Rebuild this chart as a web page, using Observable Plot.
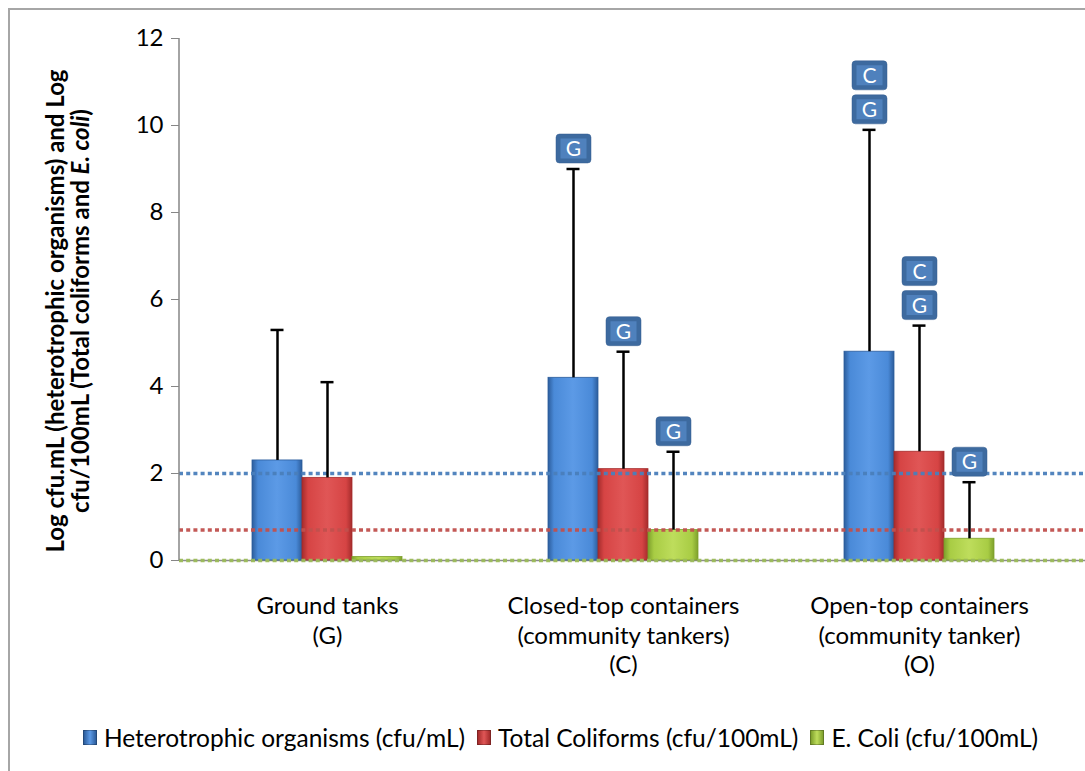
<!DOCTYPE html>
<html><head><meta charset="utf-8">
<script src="https://cdn.jsdelivr.net/npm/d3@7"></script>
<script src="https://cdn.jsdelivr.net/npm/@observablehq/plot@0.6"></script>
<style>
body{margin:0;background:#fff;font-family:Lato,"Open Sans",sans-serif;}
#wrap{position:relative;width:1085px;height:771px;overflow:hidden;background:#fff;}
#frame{position:absolute;left:8px;top:8px;width:1200px;height:900px;border:2px solid #a6a6a6;box-sizing:border-box;}
#chart{position:absolute;left:0;top:0;}
#legend{position:absolute;top:723px;left:18px;width:1085px;display:flex;justify-content:center;align-items:center;font-size:24.5px;color:#000;white-space:nowrap;}
#legend .item{display:flex;align-items:center;margin:0 6px;}
#legend .sw{width:14px;height:15px;margin-right:7px;border:1px solid rgba(0,0,0,0.25);box-sizing:border-box;}
</style>
</head><body>
<div id="wrap"><div id="frame"></div><div id="chart"></div><div id="legend"></div></div>
<script>
// ---- data ----
const categories = ["Ground tanks", "Closed-top containers", "Open-top containers"];
const categoryLabels = ["Ground tanks\n(G)", "Closed-top containers\n(community tankers)\n(C)", "Open-top containers\n(community tanker)\n(O)"];
const seriesNames = ["Heterotrophic organisms (cfu/mL)", "Total Coliforms (cfu/100mL)", "E. Coli (cfu/100mL)"];
const heterotrophic = [2.3, 4.2, 4.8];
const heterotrophicUpper = [5.3, 9.0, 9.9];
const coliforms = [1.9, 2.1, 2.5];
const coliformsUpper = [4.1, 4.8, 5.4];
const ecoli = [0.08, 0.7, 0.5];
const ecoliUpper = [null, 2.5, 1.8];
const heterotrophicBadges = [[], ["G"], ["G", "C"]];
const coliformsBadges = [[], ["G"], ["G", "C"]];
const ecoliBadges = [[], ["G"], ["G"]];
const thresholds = [2.0, 0.7, 0.0];
const yTicks = [0, 2, 4, 6, 8, 10, 12];

// ---- styles ----
const seriesColors = [
  {edge: "#2c5d9c", mid: "#4a8ad8", light: "#5c9ae6"},
  {edge: "#a52c2c", mid: "#d64444", light: "#e05656"},
  {edge: "#7ea02c", mid: "#a8cc44", light: "#bedd5c"}
];
const thresholdColors = ["#4a7ebb", "#c0504d", "#9bbb59"];

const values = [heterotrophic, coliforms, ecoli];
const uppers = [heterotrophicUpper, coliformsUpper, ecoliUpper];
const badgeSets = [heterotrophicBadges, coliformsBadges, ecoliBadges];

const rows = [];
const badgeRows = [];
values.forEach((vals, s) => vals.forEach((v, c) => {
  rows.push({category: categories[c], series: seriesNames[s], s, value: v, upper: uppers[s][c]});
  badgeSets[s][c].forEach((letter, level) => badgeRows.push({category: categories[c], s, upper: uppers[s][c], letter, level}));
}));

const W = 1085, H = 700;
const mL = 179, mT = 38, mB = 140;
const xRange = [179, 1067];
const bw = (xRange[1] - xRange[0]) / categories.length;
const barW = 50;

function roundRect(w, h, r) {
  return {draw(ctx) {
    ctx.moveTo(-w + r, -h); ctx.lineTo(w - r, -h); ctx.arcTo(w, -h, w, -h + r, r);
    ctx.lineTo(w, h - r); ctx.arcTo(w, h, w - r, h, r);
    ctx.lineTo(-w + r, h); ctx.arcTo(-w, h, -w, h - r, r);
    ctx.lineTo(-w, -h + r); ctx.arcTo(-w, -h, -w + r, -h, r); ctx.closePath();
  }};
}
const outerBadge = roundRect(17.5, 14.5, 3.5);
const innerBadge = roundRect(13, 10, 0.01);

const marks = [];
marks.push(Plot.ruleY([0], {stroke: "#8c8c8c", strokeWidth: 1.5}));
[0, 1, 2].forEach(s => {
  const inL = bw / 2 - 1.5 * barW + s * barW;
  marks.push(Plot.barY(rows.filter(d => d.s === s), {
    x: "category", y: "value", fill: `url(#grad${s})`,
    insetLeft: inL, insetRight: bw - inL - barW,
    stroke: seriesColors[s].edge, strokeWidth: 0.8
  }));
});
thresholds.forEach((t, i) => marks.push(Plot.ruleY([t], {stroke: thresholdColors[i], strokeWidth: 3.5, strokeDasharray: "4,3.2", strokeOpacity: 0.95})));
[0, 1, 2].forEach(s => {
  const dx = (s - 1) * barW;
  const er = rows.filter(d => d.s === s && d.upper != null);
  marks.push(Plot.ruleX(er, {x: "category", y1: "value", y2: "upper", dx, stroke: "#000", strokeWidth: 2.5}));
  marks.push(Plot.tickY(er, {x: "category", y: "upper", dx, insetLeft: bw / 2 - 6.5, insetRight: bw / 2 - 6.5, stroke: "#000", strokeWidth: 2.5}));
  [0, 1].forEach(level => {
    const br = badgeRows.filter(d => d.s === s && d.level === level);
    const dy = -20.5 - 34 * level;
    marks.push(Plot.dot(br, {x: "category", y: "upper", dx, dy, r: 10, symbol: outerBadge, fill: "#3d6a9f", stroke: "#365f90", strokeWidth: 0.5}));
    marks.push(Plot.dot(br, {x: "category", y: "upper", dx, dy, r: 10, symbol: innerBadge, fill: "#4f81bd", stroke: "none"}));
    marks.push(Plot.text(br, {x: "category", y: "upper", dx, dy: dy + 1, text: "letter", fill: "#fff", fontSize: 21, fontFamily: "Lato, sans-serif"}));
  });
});
marks.push(Plot.text(categories, {x: d => d, text: (d, i) => categoryLabels[i], frameAnchor: "bottom", lineAnchor: "top", dy: 33, lineHeight: 1.23, fontSize: 24, fill: "#000", fontFamily: "Lato, sans-serif"}));
marks.push(Plot.axisY({ticks: yTicks, tickSize: 8, tickPadding: 8, fontSize: 24, label: null, stroke: "#868686", color: "#000", fontFamily: "Lato, sans-serif"}));

const plot = Plot.plot({
  width: W, height: H,
  marginLeft: mL, marginTop: mT, marginBottom: mB, marginRight: 0,
  style: {background: "transparent", overflow: "visible"},
  x: {type: "band", domain: categories, range: xRange, padding: 0, axis: null},
  y: {domain: [0, 12]},
  marks
});

const svg = d3.select(plot);
const defs = svg.insert("defs", ":first-child");
seriesColors.forEach((c, i) => {
  const g = defs.append("linearGradient").attr("id", `grad${i}`).attr("x1", "0").attr("x2", "1").attr("y1", "0").attr("y2", "0");
  g.append("stop").attr("offset", "0").attr("stop-color", c.edge);
  g.append("stop").attr("offset", "0.12").attr("stop-color", c.mid);
  g.append("stop").attr("offset", "0.5").attr("stop-color", c.light);
  g.append("stop").attr("offset", "0.88").attr("stop-color", c.mid);
  g.append("stop").attr("offset", "1").attr("stop-color", c.edge);
});
// y axis line
const ys = plot.scale("y");
svg.append("line").attr("x1", mL).attr("x2", mL).attr("y1", ys.apply(0)).attr("y2", ys.apply(12)).attr("stroke", "#868686").attr("stroke-width", 1.5);
// y axis title
const title = svg.append("text").attr("transform", `translate(71,${(ys.apply(0) + ys.apply(12)) / 2 + 12}) rotate(-90)`)
  .attr("text-anchor", "middle").attr("font-weight", "bold").attr("font-size", 24).attr("font-family", "Lato, sans-serif").attr("fill", "#000");
title.append("tspan").attr("x", 0).attr("dy", "-0.28em").text("Log cfu.mL (heterotrophic organisms) and Log");
const l2 = title.append("tspan").attr("x", 0).attr("dy", "1.02em");
l2.append("tspan").text("cfu/100mL (Total coliforms and ");
l2.append("tspan").attr("font-style", "italic").text("E. coli");
l2.append("tspan").text(")");

document.getElementById("chart").appendChild(plot);

// legend
const legend = d3.select("#legend");
seriesNames.forEach((n, i) => {
  const c = seriesColors[i];
  const it = legend.append("div").attr("class", "item");
  it.append("div").attr("class", "sw").style("background", `linear-gradient(to right, ${c.edge}, ${c.light} 50%, ${c.edge})`);
  it.append("span").text(n);
});
</script>
</body></html>
